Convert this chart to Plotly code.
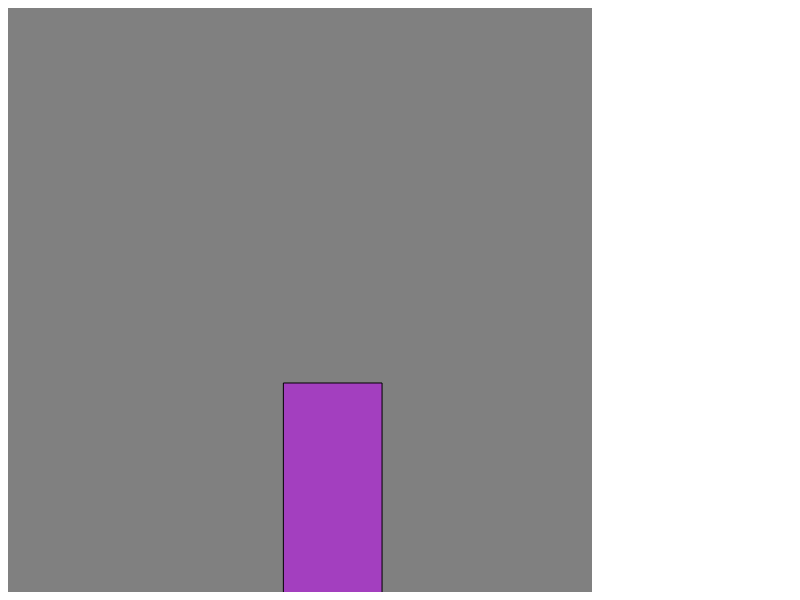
import plotly.graph_objects as go

# data
categories = [55.6]
values = [35.95]
bar_widths = [16.9]

fig = go.Figure(
    go.Bar(
        x=categories,
        y=values,
        width=bar_widths,
        marker=dict(color="#a33fbf", line=dict(color="black", width=1)),
    )
)
fig.update_layout(
    width=800,
    height=600,
    margin=dict(l=8, r=208, t=8, b=8, pad=0),
    paper_bgcolor="white",
    plot_bgcolor="#808080",
    showlegend=False,
    xaxis=dict(range=[0, 100], visible=False, showgrid=False, zeroline=False),
    yaxis=dict(range=[0.25, 100], visible=False, showgrid=False, zeroline=False),
)
fig.write_html("out.html")
